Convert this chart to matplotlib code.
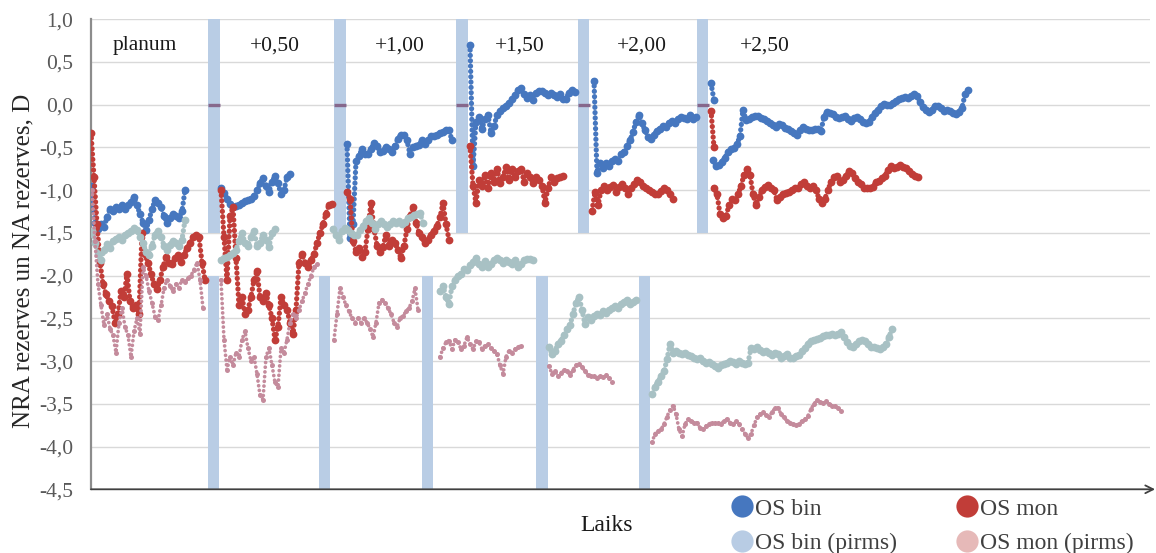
import numpy as np
import matplotlib
matplotlib.use("Agg")
import matplotlib.pyplot as plt
from matplotlib.lines import Line2D

plt.rcParams["font.family"] = ["Liberation Serif", "DejaVu Serif"]

# sampling interval of every recorded segment (time units)
STEP = 3

stages = ["planum", "+0,50", "+1,00", "+1,50", "+2,00", "+2,50"]
stage_label_t = [54, 184, 309, 429, 551, 674]

# moments when the lens power was changed
change_top_t = [123, 249, 371, 492.5, 611.5]
change_bottom_t = [122.5, 233.5, 336.5, 451, 553.5]

yticks = [1.0, 0.5, 0.0, -0.5, -1.0, -1.5, -2.0, -2.5, -3.0, -3.5, -4.0, -4.5]

# ---------------- OS bin ----------------
bin_planum = [-0.95, -1.38, -1.45, -1.40, -1.43, -1.32, -1.22, -1.25, -1.20, -1.22, -1.18,
              -1.22, -1.17, -1.14, -1.08, -1.18, -1.28, -1.38, -1.47, -1.35, -1.22, -1.12,
              -1.15, -1.20, -1.30, -1.38, -1.33, -1.28, -1.30, -1.33, -1.25, -1.00]
bin_050 = [-0.97, -1.03, -1.10, -1.16, -1.20, -1.19, -1.17, -1.15, -1.13, -1.12, -1.10,
           -1.07, -1.00, -0.92, -0.86, -0.95, -1.02, -0.90, -0.84, -0.92, -1.05, -1.00,
           -0.85, -0.81]
bin_100 = [-0.46, -1.56, -1.40, -0.66, -0.60, -0.52, -0.58, -0.58, -0.52, -0.45, -0.48,
           -0.56, -0.54, -0.50, -0.52, -0.55, -0.48, -0.40, -0.35, -0.35, -0.42, -0.58,
           -0.50, -0.48, -0.47, -0.42, -0.46, -0.42, -0.37, -0.37, -0.35, -0.33, -0.32,
           -0.30, -0.30, -0.42]
bin_150 = [0.70, -0.72, -0.20, -0.15, -0.28, -0.17, -0.12, -0.33, -0.25, -0.12, -0.08,
           -0.04, -0.02, 0.02, 0.06, 0.11, 0.17, 0.19, 0.12, 0.08, 0.11, 0.05, 0.13, 0.16,
           0.16, 0.13, 0.11, 0.13, 0.11, 0.09, 0.12, 0.06, 0.07, 0.14, 0.17, 0.15]
bin_200 = [0.28, -0.80, -0.68, -0.74, -0.68, -0.72, -0.66, -0.64, -0.66, -0.58, -0.55,
           -0.48, -0.42, -0.32, -0.20, -0.12, -0.22, -0.30, -0.38, -0.40, -0.35, -0.31,
           -0.28, -0.25, -0.26, -0.22, -0.19, -0.21, -0.17, -0.15, -0.16, -0.17, -0.12,
           -0.17, -0.14]
bin_250_start = [0.25, 0.05]
bin_250 = [-0.65, -0.72, -0.71, -0.67, -0.62, -0.55, -0.52, -0.51, -0.46, -0.37, -0.06,
           -0.18, -0.17, -0.15, -0.13, -0.13, -0.16, -0.17, -0.19, -0.22, -0.24, -0.26,
           -0.23, -0.24, -0.27, -0.29, -0.31, -0.33, -0.36, -0.30, -0.26, -0.28, -0.30,
           -0.30, -0.28, -0.29, -0.31, -0.14, -0.09, -0.10, -0.11, -0.14, -0.16, -0.15,
           -0.13, -0.17, -0.19, -0.16, -0.15, -0.17, -0.20, -0.21, -0.20, -0.15, -0.10,
           -0.06, -0.02, 0.01, 0.00, -0.01, 0.02, 0.04, 0.06, 0.08, 0.09, 0.08, 0.10, 0.12,
           0.10, 0.03, -0.03, -0.06, -0.09, -0.06, -0.02, -0.02, -0.04, -0.07, -0.06,
           -0.08, -0.10, -0.11, -0.09, -0.04, 0.12, 0.17]
bin_t0 = [1, 130, 256, 379, 503, 620, 622]

# ---------------- OS mon ----------------
mon_planum = [-0.33, -0.85, -1.40, -1.85, -2.10, -2.22, -2.30, -2.36, -2.55, -2.45, -2.18,
              -2.25, -1.98, -2.30, -2.38, -2.35, -2.45, -1.50, -1.75, -1.85, -1.98, -2.10,
              -2.16, -2.05, -1.90, -1.78, -1.85, -1.87, -1.80, -1.76, -1.84, -1.76, -1.68,
              -1.62, -1.55, -1.52, -1.55, -1.85, -2.05]
mon_050 = [-1.00, -1.55, -2.05, -1.30, -1.20, -1.80, -2.35, -2.25, -2.45, -2.40, -2.25,
           -2.05, -1.95, -2.25, -2.30, -2.20, -2.35, -2.50, -2.75, -2.60, -2.25, -2.35,
           -2.40, -2.55, -2.68, -2.40, -1.85, -1.75, -1.85, -1.90, -1.82, -1.75, -1.62,
           -1.50, -1.40, -1.28, -1.17, -1.16]
mon_100 = [-1.02, -1.10, -1.60, -1.72, -1.68, -1.78, -1.72, -1.45, -1.15, -1.45, -1.65,
           -1.72, -1.66, -1.52, -1.65, -1.58, -1.62, -1.70, -1.80, -1.65, -1.45, -1.30,
           -1.20, -1.38, -1.50, -1.55, -1.62, -1.58, -1.52, -1.48, -1.42, -1.32, -1.15,
           -1.40, -1.58]
mon_150 = [-0.48, -0.95, -1.15, -0.88, -0.95, -0.82, -0.97, -0.80, -0.90, -0.75, -0.92,
           -0.85, -0.73, -0.88, -0.75, -0.85, -0.78, -0.75, -0.90, -0.80, -0.85, -0.92,
           -0.85, -0.88, -0.95, -1.15, -0.98, -0.85, -0.90, -0.86, -0.85, -0.84]
mon_200 = [-1.24, -1.02, -1.18, -1.00, -0.95, -1.00, -0.96, -0.94, -1.02, -0.96, -0.93,
           -0.98, -1.04, -0.98, -0.93, -0.88, -0.90, -0.95, -0.98, -1.00, -1.02, -1.04,
           -1.05, -1.01, -0.98, -1.00, -1.05, -1.10]
mon_250_start = [-0.07, -0.50]
mon_250 = [-0.97, -1.05, -1.28, -1.33, -1.30, -1.18, -1.10, -1.12, -1.05, -0.95, -0.82,
           -0.75, -0.82, -1.05, -1.18, -1.08, -1.00, -0.96, -0.94, -0.97, -1.00, -1.12,
           -1.08, -1.04, -1.03, -1.02, -1.00, -0.98, -0.97, -0.93, -0.91, -0.95, -0.97,
           -0.95, -1.00, -1.10, -1.15, -1.10, -1.00, -0.90, -0.85, -0.83, -0.90, -0.88,
           -0.84, -0.78, -0.80, -0.86, -0.90, -0.93, -0.97, -0.98, -0.98, -0.96, -0.91,
           -0.89, -0.86, -0.83, -0.77, -0.72, -0.74, -0.73, -0.71, -0.73, -0.74, -0.78,
           -0.81, -0.84, -0.85]
mon_t0 = [0, 130, 256, 379, 501, 620, 623]

# ---------------- OS bin (pirms) ----------------
binp_planum = [-1.48, -1.62, -1.75, -1.82, -1.70, -1.63, -1.68, -1.60, -1.57, -1.55, -1.58,
               -1.53, -1.50, -1.48, -1.44, -1.47, -1.55, -1.62, -1.72, -1.76, -1.65, -1.52,
               -1.48, -1.55, -1.65, -1.70, -1.64, -1.59, -1.62, -1.65, -1.58, -1.35]
binp_050 = [-1.82, -1.80, -1.78, -1.76, -1.74, -1.70, -1.60, -1.50, -1.62, -1.65, -1.55,
            -1.48, -1.65, -1.62, -1.52, -1.58, -1.66, -1.50, -1.45]
binp_100 = [-1.45, -1.52, -1.58, -1.48, -1.44, -1.47, -1.50, -1.52, -1.53, -1.47, -1.42,
            -1.36, -1.33, -1.38, -1.45, -1.40, -1.36, -1.40, -1.43, -1.40, -1.36, -1.39,
            -1.36, -1.40, -1.37, -1.33, -1.31, -1.29, -1.28, -1.27, -1.38]
binp_150 = [-2.18, -2.12, -2.25, -2.33, -2.12, -2.05, -2.00, -1.98, -1.92, -1.94, -1.88,
            -1.84, -1.80, -1.86, -1.90, -1.83, -1.90, -1.86, -1.82, -1.79, -1.82, -1.85,
            -1.82, -1.84, -1.86, -1.82, -1.90, -1.86, -1.82, -1.81, -1.81, -1.82]
binp_200 = [-2.83, -2.92, -2.88, -2.80, -2.76, -2.70, -2.62, -2.58, -2.45, -2.32, -2.25,
            -2.40, -2.57, -2.48, -2.52, -2.47, -2.45, -2.46, -2.42, -2.44, -2.40, -2.38,
            -2.36, -2.38, -2.33, -2.31, -2.29, -2.33, -2.31, -2.28]
binp_250 = [-3.38, -3.30, -3.24, -3.18, -3.12, -2.98, -2.80, -2.90, -2.88, -2.90, -2.92,
            -2.90, -2.93, -2.94, -2.96, -2.98, -2.97, -3.00, -3.02, -3.01, -3.04, -3.06,
            -3.08, -3.05, -3.03, -3.02, -3.00, -3.01, -3.03, -3.00, -3.02, -3.04, -3.02,
            -2.85, -2.86, -2.84, -2.87, -2.89, -2.88, -2.90, -2.93, -2.90, -2.92, -2.97,
            -2.94, -2.92, -2.96, -2.97, -2.94, -2.93, -2.88, -2.85, -2.80, -2.76, -2.75,
            -2.74, -2.73, -2.71, -2.70, -2.70, -2.68, -2.70, -2.68, -2.66, -2.72, -2.78,
            -2.82, -2.84, -2.80, -2.77, -2.75, -2.77, -2.80, -2.83, -2.84, -2.85, -2.86,
            -2.84, -2.80, -2.72, -2.62]
binp_t0 = [1, 130, 242, 349, 458, 561]

# ---------------- OS mon (pirms) ----------------
monp_planum = [-1.00, -1.60, -2.10, -2.35, -2.58, -2.45, -2.62, -2.70, -2.90, -2.55, -2.38,
               -2.60, -2.70, -2.95, -2.65, -2.50, -2.68, -1.90, -2.00, -2.18, -2.32, -2.48,
               -2.52, -2.35, -2.15, -2.05, -2.12, -2.18, -2.10, -2.14, -2.05, -2.08, -2.03,
               -2.00, -1.93, -1.85, -2.05, -2.38]
monp_050 = [-2.05, -2.75, -3.10, -2.95, -3.05, -2.90, -2.95, -2.75, -2.65, -2.85, -3.00,
            -2.95, -3.15, -3.40, -3.45, -2.95, -2.85, -3.05, -3.25, -3.30, -2.85, -2.90,
            -2.75, -2.55, -2.45, -2.50, -2.40, -2.30, -2.20, -2.10, -2.00, -1.90, -1.87]
monp_100 = [-2.75, -2.45, -2.15, -2.25, -2.35, -2.42, -2.50, -2.55, -2.50, -2.55, -2.50,
            -2.55, -2.62, -2.72, -2.55, -2.32, -2.28, -2.32, -2.38, -2.45, -2.55, -2.60,
            -2.50, -2.47, -2.42, -2.38, -2.30, -2.15, -2.40]
monp_150 = [-2.95, -2.85, -2.78, -2.76, -2.86, -2.75, -2.78, -2.86, -2.82, -2.72, -2.80,
            -2.86, -2.77, -2.78, -2.86, -2.82, -2.80, -2.85, -2.88, -2.92, -3.05, -3.15,
            -2.95, -2.88, -2.90, -2.86, -2.84, -2.82]
monp_200 = [-3.06, -3.15, -3.12, -3.18, -3.14, -3.10, -3.12, -3.16, -3.10, -3.05, -3.03,
            -3.07, -3.12, -3.16, -3.17, -3.18, -3.20, -3.18, -3.19, -3.16, -3.20, -3.25]
monp_250 = [-3.95, -3.85, -3.82, -3.80, -3.74, -3.65, -3.57, -3.52, -3.62, -3.80, -3.88,
            -3.74, -3.68, -3.70, -3.72, -3.72, -3.78, -3.80, -3.76, -3.74, -3.72, -3.73,
            -3.72, -3.74, -3.70, -3.68, -3.72, -3.74, -3.70, -3.74, -3.80, -3.85, -3.90,
            -3.85, -3.75, -3.66, -3.62, -3.60, -3.63, -3.65, -3.60, -3.55, -3.55, -3.62,
            -3.66, -3.70, -3.72, -3.74, -3.75, -3.74, -3.70, -3.68, -3.64, -3.56, -3.50,
            -3.46, -3.48, -3.49, -3.47, -3.50, -3.52, -3.53, -3.55, -3.58]
monp_t0 = [1, 130, 243, 349, 458, 561]

os_bin = [bin_planum, bin_050, bin_100, bin_150, bin_200, bin_250_start, bin_250]
os_mon = [mon_planum, mon_050, mon_100, mon_150, mon_200, mon_250_start, mon_250]
os_binp = [binp_planum, binp_050, binp_100, binp_150, binp_200, binp_250]
os_monp = [monp_planum, monp_050, monp_100, monp_150, monp_200, monp_250]


def draw_series(ax, segments, starts, color, lw, gap, ms, z):
    for t0, vals in zip(starts, segments):
        t = t0 + STEP * np.arange(len(vals))
        ax.plot(t, vals, color=color, lw=lw, ls=(0, (0.01, gap)),
                dash_capstyle="round", marker="o", ms=ms, mew=0, zorder=z)


W, H = 1156, 553
fig = plt.figure(figsize=(W / 100, H / 100), dpi=100)
ax = fig.add_axes([91 / W, 1 - 489.3 / H, 1059 / W, 470.2 / H])
ax.set_xlim(0, 1059)
ax.set_ylim(-4.5, 1.0)

# grid and axes
ax.set_yticks(yticks)
ax.set_yticklabels([f"{v:.1f}".replace(".", ",") for v in yticks])
ax.yaxis.grid(True, color="#d9d9d9", lw=1.0, zorder=0)
ax.set_axisbelow(True)
ax.set_xticks([])
ax.tick_params(axis="y", length=0, pad=13, labelsize=15.5, labelcolor="#595959")
for side in ("top", "right", "bottom"):
    ax.spines[side].set_visible(False)
ax.spines["left"].set_color("#8c8c8c")
ax.spines["left"].set_linewidth(1.6)
ax.annotate("", xy=(1.0048, 0), xytext=(0, 0), xycoords="axes fraction",
            arrowprops=dict(arrowstyle="->", color="#404040", lw=1.3,
                            shrinkA=0, shrinkB=0, mutation_scale=14))

# lens change bands
band_color = "#b9cde5"
ax.bar(change_top_t, 2.5, bottom=-1.5, width=11.5, color=band_color, zorder=1)
ax.bar(change_bottom_t, 2.5, bottom=-4.5, width=11.5, color=band_color, zorder=1)
ax.plot(change_top_t, np.zeros(len(change_top_t)), ls="none", marker="_",
        ms=8.2, mew=2.4, color="#86688c", zorder=2)

# measurement series
draw_series(ax, os_bin, bin_t0, "#4677bf", 3.8, 1.0, 5.6, 3)
draw_series(ax, os_mon, mon_t0, "#c13d38", 3.8, 1.0, 5.6, 4)
draw_series(ax, os_binp, binp_t0, "#a8c1c4", 3.8, 1.0, 5.6, 5)
draw_series(ax, os_monp, monp_t0, "#c48b9c", 2.7, 1.25, 3.6, 6)

# stage labels
for name, t in zip(stages, stage_label_t):
    ax.text(t, 0.69, name, ha="center", va="center", fontsize=15.5, color="#1a1a1a", zorder=7)

ax.set_ylabel("NRA rezerves un NA rezerves, D", fontsize=18, color="#262626")
ax.yaxis.set_label_coords(-0.053, 0.485)
ax.set_xlabel("Laiks", fontsize=17, color="#1a1a1a")
ax.xaxis.set_label_coords(0.487, -0.055)

handles = [
    Line2D([], [], ls="none", marker="o", ms=16, mew=0, color="#4677bf"),
    Line2D([], [], ls="none", marker="o", ms=16, mew=0, color="#b8cce4"),
    Line2D([], [], ls="none", marker="o", ms=16, mew=0, color="#c13d38"),
    Line2D([], [], ls="none", marker="o", ms=16, mew=0, color="#e6b9b8"),
]
labels = ["OS bin", "OS bin (pirms)", "OS mon", "OS mon (pirms)"]
fig.legend(handles, labels, ncol=2, loc="upper left",
           bbox_to_anchor=(731 / W, 1 - 498 / H), frameon=False, fontsize=17,
           handlelength=0.9, handletextpad=0.1, columnspacing=2.55,
           labelspacing=0.55, borderpad=0, borderaxespad=0, labelcolor="#404040")

fig.savefig("out.png", dpi=100)
